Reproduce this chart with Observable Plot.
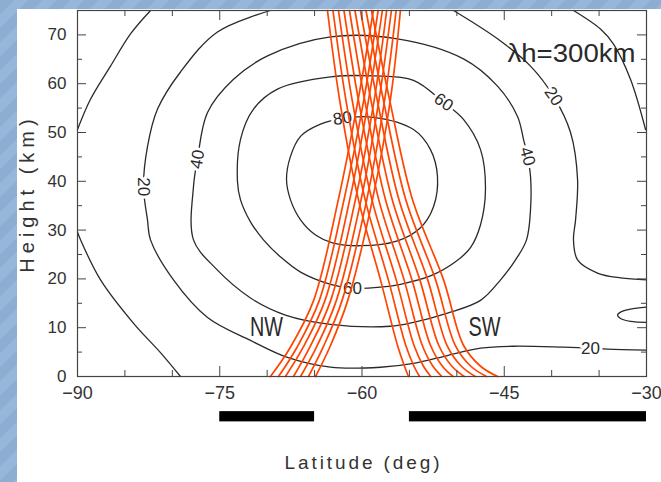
<!DOCTYPE html>
<html><head><meta charset="utf-8">
<script src="https://cdn.jsdelivr.net/npm/d3@7"></script>
<script src="https://cdn.jsdelivr.net/npm/@observablehq/plot@0.6"></script>
<style>
html,body{margin:0;padding:0;}
body{width:661px;height:482px;overflow:hidden;position:relative;
 background:repeating-linear-gradient(135deg,#8daed2 0 10px,#96b7d9 10px 20px);}
#panel{position:absolute;left:17px;top:9px;width:644px;height:473px;background:#fff;}
#chart{position:absolute;left:0;top:0;}
</style></head><body><div id="panel"></div><div id="chart"></div>
<script>
// ---- axis ticks ----
const xMajor = [-90, -75, -60, -45, -30];
const xMinor = [-85, -80, -70, -65, -55, -50, -40, -35];
const yMajor = [0, 10, 20, 30, 40, 50, 60, 70];
const yMinor = [5, 15, 25, 35, 45, 55, 65];

// ---- contour lines [lat, height km] ----
const contour80 = [[-67.96,40.4],[-67.54,45.1],[-66.48,49.2],[-64.38,51.7],[-62.06,52.9],[-58.79,53.1],[-54.57,50.6],[-52.78,46.5],[-52.04,41.0],[-52.46,34.8],[-53.83,30.5],[-56.26,27.8],[-60.16,26.8],[-63.11,27.4],[-64.90,29.0],[-66.48,32.1],[-67.54,36.2]];
const contour60 = [[-73.13,39.9],[-72.81,48.6],[-71.44,54.8],[-68.91,58.9],[-63.32,61.4],[-58.79,61.6],[-54.57,60.7],[-51.40,56.2],[-49.30,52.7],[-47.50,46.5],[-46.98,38.3],[-47.50,31.1],[-48.56,26.4],[-50.14,23.5],[-52.78,20.6],[-55.94,18.9],[-58.05,18.3],[-61.0,18.1],[-63.32,18.9],[-66.48,21.4],[-68.59,24.5],[-70.39,28.0],[-71.76,31.7],[-72.81,36.2]];
const contour40 = [[-63.32,69.6],[-56.26,69.2],[-49.30,65.1],[-45.71,59.5],[-43.60,53.3],[-42.97,48.6],[-42.55,45.1],[-42.23,41.0],[-42.23,34.2],[-42.65,28.0],[-43.81,23.9],[-45.39,19.8],[-47.50,15.6],[-50.98,13.0],[-54.57,11.1],[-57.0,10.3],[-63.32,10.7],[-68.07,12.6],[-71.76,16.1],[-75.45,22.2],[-77.77,28.0],[-77.77,38.9],[-77.35,44.5],[-76.29,54.1],[-73.55,60.9],[-69.96,65.7]];
const contour20a = [[-69.65,75],[-75.24,70.6],[-79.14,62.4],[-81.56,54.8],[-82.62,47.1],[-83.04,38.9],[-82.62,32.1],[-82.30,28.0],[-79.88,19.8],[-76.29,12.1],[-71.76,7.4],[-67.86,3.9],[-63.32,1.9],[-58.05,1.9],[-54.57,2.7],[-50.98,4.3],[-47.50,5.8],[-44.02,6.2],[-38.75,6.0],[-35.90,5.8],[-34.11,5.6],[-30,5.4]];
const contour20b = [[-50.35,75],[-45.71,69.2],[-42.23,63.6],[-39.80,57.4],[-38.01,50.0],[-37.27,40.4],[-37.48,32.1],[-37.70,28.0],[-37.27,23.9],[-35.17,21.2],[-32.74,20.2],[-30,19.8]];
const contour20c = [[-30,14.2],[-31.69,13.8],[-32.74,13.2],[-33.06,12.6],[-32.74,11.9],[-31.69,11.3],[-30,11.1]];
const outerUpperLeft = [[-82.30,75],[-84.41,70.2],[-86.52,63.6],[-88.63,56.8],[-90,50.6]];
const outerLowerLeft = [[-90,29.6],[-89.68,28.0],[-87.57,19.8],[-84.09,10.9],[-81.25,4.9],[-79.14,0]];
const outerUpperRight = [[-37.70,75],[-34.85,71.2],[-33.48,68.1],[-31.69,60.9],[-30.1,50.6]];

// ---- contour labels ----
const labelText = ["80", "60", "40", "20", "40", "20", "60", "20"];
const labelLat  = [-62.06, -51.40, -42.55, -39.80, -77.35, -83.04, -61.0, -35.90];
const labelH    = [52.9, 56.2, 45.1, 57.4, 44.5, 38.9, 18.1, 5.8];
const labelRotate = [-10, 35, 75, 55, -80, 90, 0, 0]; // style

// ---- ray paths (orange) ----
const nwHeights = [0, 6.0, 15.6, 36.2, 56.8, 75];
const nwRays = [
  [-69.65, -67.55, -65.1, -62.5, -60.4, -58.8],
  [-68.8,  -66.85, -64.5, -61.9, -59.8, -58.3],
  [-68.07, -66.2,  -63.9, -61.3, -59.3, -57.85],
  [-67.22, -65.5,  -63.3, -60.7, -58.7, -57.4],
  [-66.48, -64.8,  -62.7, -60.1, -58.2, -56.9],
  [-65.64, -64.1,  -62.1, -59.5, -57.6, -56.4],
  [-64.9,  -63.4,  -61.5, -58.9, -57.0, -55.95]
];
const swHeights = [0, 2.1, 6.4, 19.8, 36.2, 56.8, 75];
const swRays = [
  [-55.1,  -55.52, -56.26, -58.05, -60.37, -62.37, -63.64],
  [-53.93, -54.52, -55.39, -57.22, -59.66, -61.71, -63.06],
  [-52.75, -53.52, -54.52, -56.39, -58.95, -61.05, -62.48],
  [-51.58, -52.52, -53.65, -55.56, -58.23, -60.39, -61.9],
  [-50.4,  -51.52, -52.78, -54.73, -57.52, -59.73, -61.32],
  [-49.23, -50.52, -51.91, -53.9,  -56.81, -59.07, -60.74],
  [-48.05, -49.52, -51.04, -53.07, -56.1,  -58.41, -60.16],
  [-46.88, -48.52, -50.17, -52.24, -55.38, -57.76, -59.58],
  [-45.7,  -47.5,  -49.3,  -51.4,  -54.67, -57.1,  -59.0]
];

// ---- observation coverage bars (latitude ranges) ----
const barStart = [-75, -55];
const barEnd   = [-65, -30];

// ---- text ----
const xTitle = "Latitude (deg)";
const yTitle = "Height (km)";
const waveLabel = "λh=300km";
const fanNames = ["NW", "SW"];
const fanLat = [-70.07, -47.08];
const fanH = [10.1, 10.1];

// ---------------- build ----------------
const W = 661, H = 482, mL = 77, mR = 15, mT = 10, mB = 106;
const fw = W - mL - mR, fh = H - mT - mB;
const ink = "#2a2a2a", axisInk = "#444";
const fam = "'Liberation Sans', Arial, sans-serif";

const closedContours = [contour80, contour60, contour40];
const openContours = [contour20a, contour20b, contour20c, outerUpperLeft, outerLowerLeft, outerUpperRight];

const rayRows = [];
nwRays.forEach((r, i) => r.forEach((lat, j) => rayRows.push({id: "nw" + i, lat, h: nwHeights[j]})));
swRays.forEach((r, i) => r.forEach((lat, j) => rayRows.push({id: "sw" + i, lat, h: swHeights[j]})));

const labels = labelText.map((t, i) => ({t, lat: labelLat[i], h: labelH[i], r: labelRotate[i]}));
const bars = barStart.map((s, i) => ({s, e: barEnd[i]}));
const fans = fanNames.map((n, i) => ({n, lat: fanLat[i], h: fanH[i]}));
const minus = d => String(d).replace("-", "\u2212");

const marks = [];
closedContours.forEach(c => marks.push(Plot.line(c, {x: d => d[0], y: d => d[1], curve: "catmull-rom-closed", stroke: ink, strokeWidth: 1.3})));
openContours.forEach(c => marks.push(Plot.line(c, {x: d => d[0], y: d => d[1], curve: "catmull-rom", stroke: ink, strokeWidth: 1.3})));
marks.push(
  Plot.text(labels, {x: "lat", y: "h", text: "t", rotate: "r", fontSize: 17, fill: ink, stroke: "white", strokeWidth: 6, paintOrder: "stroke", fontFamily: fam}),
  Plot.line(rayRows, {x: "lat", y: "h", z: "id", curve: "catmull-rom", stroke: "#ff4500", strokeWidth: 1.7}),
  Plot.frame({stroke: axisInk, strokeWidth: 1.2}),
  // ticks (inward, on all four sides)
  Plot.tickX(xMajor, {x: d => d, insetTop: fh - 10, stroke: axisInk}),
  Plot.tickX(xMinor, {x: d => d, insetTop: fh - 6, stroke: axisInk}),
  Plot.tickX(xMajor, {x: d => d, insetBottom: fh - 10, stroke: axisInk}),
  Plot.tickX(xMinor, {x: d => d, insetBottom: fh - 6, stroke: axisInk}),
  Plot.tickY(yMajor, {y: d => d, insetRight: fw - 9, stroke: axisInk}),
  Plot.tickY(yMinor, {y: d => d, insetRight: fw - 5, stroke: axisInk}),
  Plot.tickY(yMajor, {y: d => d, insetLeft: fw - 9, stroke: axisInk}),
  Plot.tickY(yMinor, {y: d => d, insetLeft: fw - 5, stroke: axisInk}),
  // tick labels
  Plot.text(xMajor, {x: d => d, frameAnchor: "bottom", dy: 22, text: minus, fontSize: 18, fill: "#333", fontFamily: fam}),
  Plot.text(yMajor, {y: d => d, frameAnchor: "left", dx: -11, textAnchor: "end", text: d => String(d), fontSize: 17, fill: "#333", fontFamily: fam}),
  // axis titles
  Plot.text([xTitle], {frameAnchor: "bottom", dy: 92, textAnchor: "middle", text: d => d, fontSize: 19, fill: "#333", fontFamily: fam}),
  Plot.text([yTitle], {frameAnchor: "left", dx: -50, rotate: -90, textAnchor: "middle", text: d => d, fontSize: 20, fill: "#333", fontFamily: fam}),
  // coverage bars
  Plot.rect(bars, {x1: "s", x2: "e", y1: -7.2, y2: -9.3, fill: "#000"}),
  // annotations
  Plot.text(fans, {x: "lat", y: "h", text: "n", fontSize: 27, fill: ink, fontFamily: fam}),
  Plot.text([waveLabel], {frameAnchor: "top-right", dx: -11, dy: 33, textAnchor: "end", text: d => d, fontSize: 26, fill: ink, fontFamily: fam})
);

const svg = Plot.plot({
  width: W, height: H,
  marginLeft: mL, marginRight: mR, marginTop: mT, marginBottom: mB,
  style: {background: "transparent", overflow: "visible"},
  x: {domain: [-90, -30], axis: null},
  y: {domain: [0, 75], axis: null},
  marks
});

// fit text widths to the reference lettering
const fit = {"NW": [33, "spacingAndGlyphs"], "SW": [32, "spacingAndGlyphs"], "λh=300km": [128, "spacingAndGlyphs"],
             "Latitude (deg)": [155, "spacing"]};
d3.select(svg).selectAll("text").each(function() {
  const t = this.textContent;
  const f = fit[t];
  if (f) { this.setAttribute("textLength", f[0]); this.setAttribute("lengthAdjust", f[1]); }
  if (t === yTitle) this.style.letterSpacing = "5px";
});
document.getElementById("chart").appendChild(svg);
</script></body></html>
